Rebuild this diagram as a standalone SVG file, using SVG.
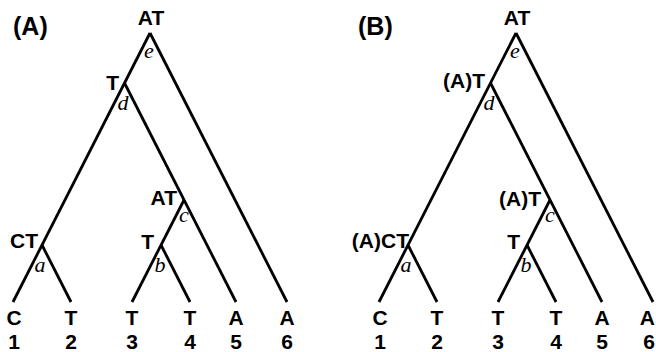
<svg xmlns="http://www.w3.org/2000/svg" width="656" height="352" viewBox="0 0 656 352">
<style>
.e{stroke:#000;stroke-width:2.8;fill:none;stroke-linecap:butt}
.t{font-family:"Liberation Sans",Arial,sans-serif;font-size:21px;font-weight:bold;fill:#000}
.p{font-size:25px}
.m{text-anchor:middle}
.r{text-anchor:end}
.i{font-family:"Liberation Serif","Times New Roman",serif;font-size:22px;font-style:italic;fill:#000;text-anchor:middle}
</style>
<rect width="656" height="352" fill="#fff"/>
<g id="treeA">
<g id="A-edges">
<line class="e" x1="150" y1="33" x2="13" y2="302"/>
<line class="e" x1="150" y1="33" x2="287" y2="302"/>
<line class="e" x1="124.5" y1="83" x2="236" y2="302"/>
<line class="e" x1="184" y1="200" x2="132" y2="302"/>
<line class="e" x1="161" y1="245" x2="190" y2="302"/>
<line class="e" x1="42" y1="245" x2="71" y2="302"/>
</g>
<text class="t p" x="13" y="35">(A)</text>
<g id="A-e"><text class="t m" x="151" y="25">AT</text><text class="i" x="149" y="58">e</text></g>
<g id="A-d"><text class="t r" x="119" y="90">T</text><text class="i" x="123" y="110">d</text></g>
<g id="A-c"><text class="t r" x="177" y="205">AT</text><text class="i" x="184" y="222">c</text></g>
<g id="A-b"><text class="t r" x="154" y="249">T</text><text class="i" x="160" y="272">b</text></g>
<g id="A-a"><text class="t r" x="38" y="248">CT</text><text class="i" x="40" y="272">a</text></g>
<g id="A-leaves">
<text class="t m" x="14" y="325">C</text><text class="t m" x="14" y="349">1</text>
<text class="t m" x="71" y="325">T</text><text class="t m" x="71" y="349">2</text>
<text class="t m" x="132" y="325">T</text><text class="t m" x="132" y="349">3</text>
<text class="t m" x="190" y="325">T</text><text class="t m" x="190" y="349">4</text>
<text class="t m" x="236" y="325">A</text><text class="t m" x="236" y="349">5</text>
<text class="t m" x="287" y="325">A</text><text class="t m" x="287" y="349">6</text>
</g>
</g>
<g id="treeB" transform="translate(366,0)">
<g id="B-edges">
<line class="e" x1="150" y1="33" x2="13" y2="302"/>
<line class="e" x1="150" y1="33" x2="287" y2="302"/>
<line class="e" x1="124.5" y1="83" x2="236" y2="302"/>
<line class="e" x1="184" y1="200" x2="132" y2="302"/>
<line class="e" x1="161" y1="245" x2="190" y2="302"/>
<line class="e" x1="42" y1="245" x2="71" y2="302"/>
</g>
<text class="t p" x="-8" y="35">(B)</text>
<g id="B-e"><text class="t m" x="151" y="25">AT</text><text class="i" x="149" y="58">e</text></g>
<g id="B-d"><text class="t r" x="119" y="88">(A)T</text><text class="i" x="123" y="110">d</text></g>
<g id="B-c"><text class="t r" x="175" y="206">(A)T</text><text class="i" x="184" y="222">c</text></g>
<g id="B-b"><text class="t r" x="154" y="249">T</text><text class="i" x="160" y="272">b</text></g>
<g id="B-a"><text class="t r" x="43" y="248">(A)CT</text><text class="i" x="40" y="272">a</text></g>
<g id="B-leaves">
<text class="t m" x="14" y="325">C</text><text class="t m" x="14" y="349">1</text>
<text class="t m" x="71" y="325">T</text><text class="t m" x="71" y="349">2</text>
<text class="t m" x="132" y="325">T</text><text class="t m" x="132" y="349">3</text>
<text class="t m" x="190" y="325">T</text><text class="t m" x="190" y="349">4</text>
<text class="t m" x="236" y="325">A</text><text class="t m" x="236" y="349">5</text>
<text class="t r" x="289" y="325">A</text><text class="t r" x="289" y="349">6</text>
</g>
</g>
</svg>
